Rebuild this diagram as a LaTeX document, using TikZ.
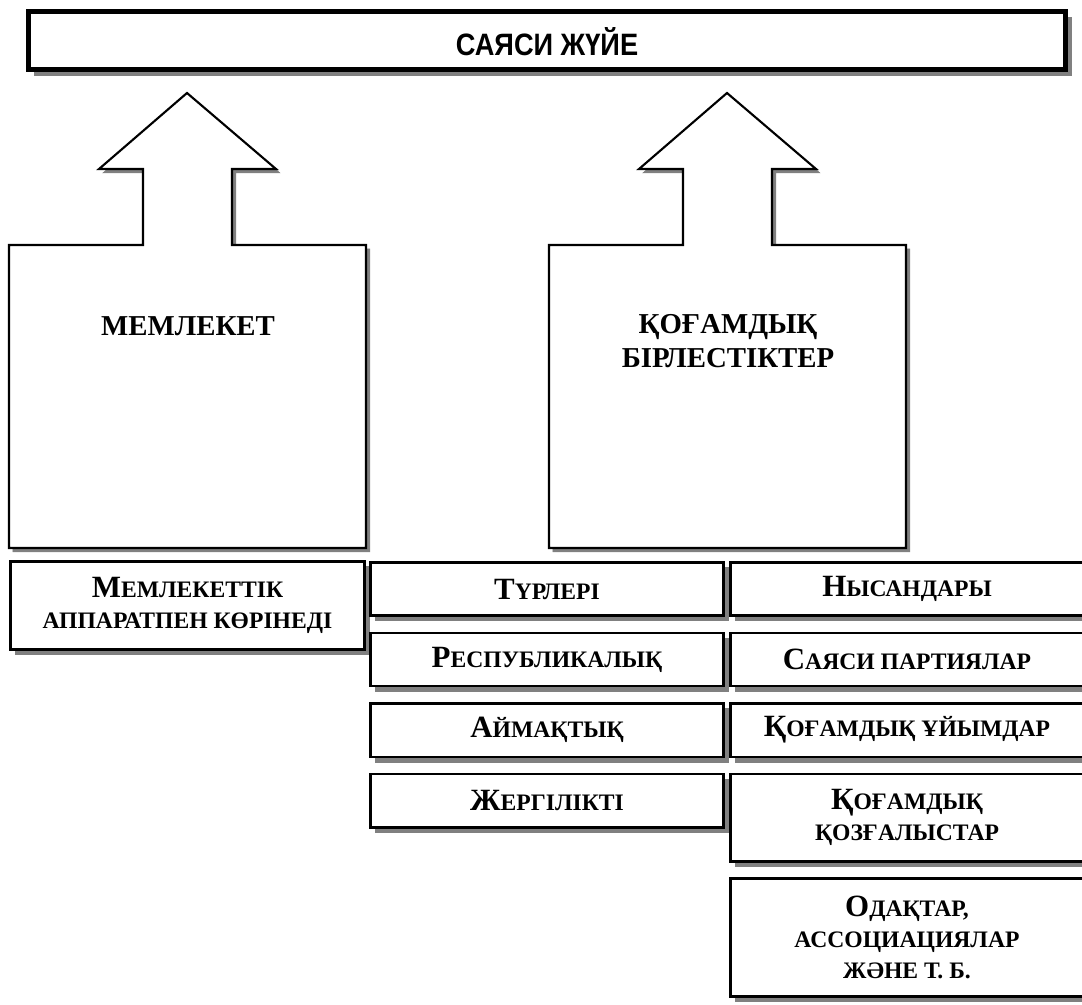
\documentclass[tikz,border=0pt]{standalone}
\usepackage{fontspec}
\setmainfont{Liberation Serif}
\newfontfamily\headfont[FakeStretch=0.88]{Liberation Sans}
\usetikzlibrary{shadows}

% capital letter + small capitals
\newcommand{\capsc}[2]{{\fontsize{22}{24}\selectfont #1}#2}

\begin{document}
\begin{tikzpicture}[x=0.025cm, y=-0.025cm,
  shad/.style={drop shadow={shadow xshift=#1, shadow yshift=-#1, fill=black!50, draw=black!50, opacity=1}},
  banner/.style={draw=black, line width=3.5pt, fill=white, shad=4pt},
  uparrow/.style={draw=black, line width=1.5pt, line join=miter, fill=white, shad=2.8pt},
  cell/.style={draw=black, line width=2.1pt, fill=white, shad=3.6pt},
  title/.style={font=\headfont\bfseries\fontsize{22}{24}\selectfont},
  head/.style={font=\bfseries\fontsize{20.5}{24}\selectfont, align=center},
  lbl/.style={font=\bfseries\fontsize{16.8}{22}\selectfont, align=center}]
  \useasboundingbox (0,0) rectangle (1082,1004);

  % Top banner
  \draw[banner] (28.5,11.5) rectangle (1065.5,69.5);
  \node[title] (sys) at (547,42) {САЯСИ ЖҮЙЕ};

  % Block arrows
  \draw[uparrow] (9,548) -- (9,245) -- (143,245) -- (143,169) -- (99,169) -- (187,93)
     -- (276,169) -- (232,169) -- (232,245) -- (366,245) -- (366,548) -- cycle;
  \draw[uparrow] (549,548) -- (549,245) -- (683,245) -- (683,169) -- (639,169) -- (727,93)
     -- (816,169) -- (772,169) -- (772,245) -- (906,245) -- (906,548) -- cycle;
  \node[head] (state) at (188,326) {МЕМЛЕКЕТ};
  \node[head] (union) at (728,341) {ҚОҒАМДЫҚ\\БІРЛЕСТІКТЕР};

  % Left box
  \draw[cell] (10.5,561.5) rectangle (364.5,649.5);
  \node[lbl] (apparat) at (187.5,605.5) {\capsc{М}{ЕМЛЕКЕТТІК}\\АППАРАТПЕН КӨРІНЕДІ};

  % Column 1
  \draw[cell] (370.5,562.5) rectangle (723.5,615.5);
  \draw[cell] (370.5,633) rectangle (723.5,686);
  \draw[cell] (370.5,703.5) rectangle (723.5,757);
  \draw[cell] (370.5,774) rectangle (723.5,827.5);
  \node[lbl] (kinds) at (547,589) {\capsc{Т}{ҮРЛЕРІ}};
  \node[lbl] (rep) at (547,659.5) {\capsc{Р}{ЕСПУБЛИКАЛЫҚ}};
  \node[lbl] (reg) at (547,730) {\capsc{А}{ЙМАҚТЫҚ}};
  \node[lbl] (loc) at (547,800.5) {\capsc{Ж}{ЕРГІЛІКТІ}};

  % Column 2
  \draw[cell] (730.5,562.5) rectangle (1083.5,615.5);
  \draw[cell] (730.5,633) rectangle (1083.5,686);
  \draw[cell] (730.5,703.5) rectangle (1083.5,757);
  \draw[cell] (730.5,774) rectangle (1083.5,861.5);
  \draw[cell] (730.5,878.5) rectangle (1083.5,996.5);
  \node[lbl] (forms) at (907,589) {\capsc{Н}{ЫСАНДАРЫ}};
  \node[lbl] (parties) at (907,659.5) {\capsc{С}{АЯСИ ПАРТИЯЛАР}};
  \node[lbl] (orgs) at (907,730) {\capsc{Қ}{ОҒАМДЫҚ ҰЙЫМДАР}};
  \node[lbl] (moves) at (907,817.5) {\capsc{Қ}{ОҒАМДЫҚ}\\ҚОЗҒАЛЫСТАР};
  \node[lbl] (assoc) at (907,937.5) {\capsc{О}{ДАҚТАР,}\\АССОЦИАЦИЯЛАР\\ЖӘНЕ Т. Б.};
\end{tikzpicture}
\end{document}
